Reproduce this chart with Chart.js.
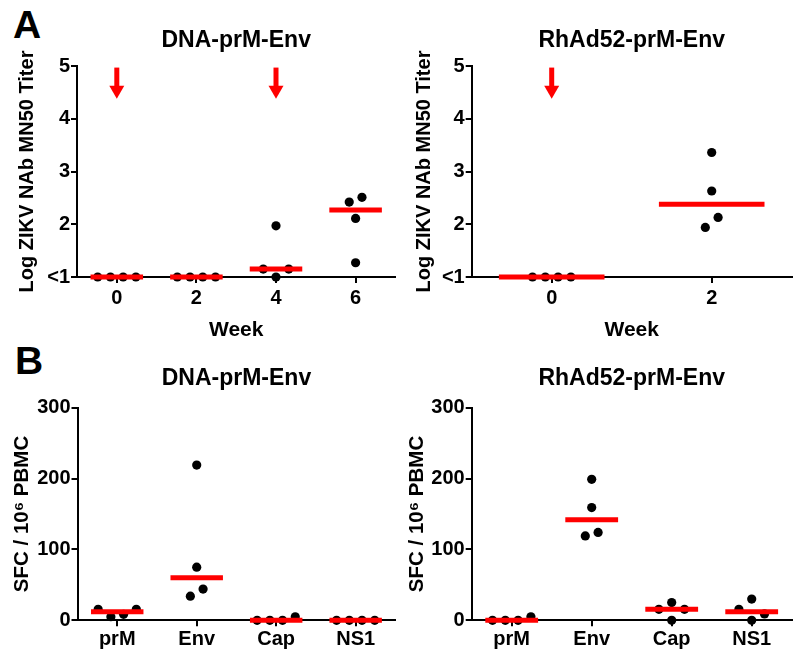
<!DOCTYPE html>
<html>
<head>
<meta charset="utf-8">
<title>ZIKV NAb titers and ELISPOT responses</title>
<script src="https://cdn.jsdelivr.net/npm/chart.js@4.4.1/dist/chart.umd.min.js"></script>
<style>
  body { margin: 0; background: #fff; }
  #figure { position: relative; width: 800px; height: 659px; overflow: hidden; }
  .panel { position: absolute; }
  .letter { position: absolute; font: bold 39px/39px "Liberation Sans", Arial, sans-serif; color: #000; }
</style>
</head>
<body>
<div id="figure">
  <div class="letter" style="left:13px;top:5px">A</div>
  <div class="letter" style="left:15px;top:341px">B</div>
  <canvas id="nabDna" class="panel" width="400" height="345" style="left:0;top:0"></canvas>
  <canvas id="nabRhad" class="panel" width="400" height="345" style="left:400px;top:0"></canvas>
  <canvas id="sfcDna" class="panel" width="400" height="314" style="left:0;top:345px"></canvas>
  <canvas id="sfcRhad" class="panel" width="400" height="314" style="left:400px;top:345px"></canvas>
</div>
<script>
// Panel A: log ZIKV NAb MN50 titers per animal, by week
const weeksDna = [0, 2, 4, 6];
const nabDna = [
    [1, 1, 1, 1],
    [1, 1, 1, 1],
    [1.0, 1.15, 1.15, 1.97],
    [1.27, 2.11, 2.42, 2.51]
];
const nabDnaMedian = [1, 1, 1.15, 2.27];
const boostDna = [0, 4];

const weeksRhad = [0, 2];
const nabRhad = [
    [1, 1, 1, 1],
    [1.94, 2.13, 2.63, 3.36]
];
const nabRhadMedian = [1, 2.38];
const boostRhad = [0];

const nabTicks = [1, 2, 3, 4, 5];
const nabTickLabels = ['<1', '2', '3', '4', '5'];
const arrowFrom = 4.97;   // top of the vaccination arrows
const arrowTo = 4.38;     // arrow tip

// Panel B: ELISPOT SFC per 10^6 PBMC, by antigen
const antigens = ['prM', 'Env', 'Cap', 'NS1'];
const antigenPos = [0, 1, 2, 3];
const sfcDna = [
    [5, 8.5, 15.5, 15.5],
    [34, 44, 75, 219],
    [0, 0, 0, 5],
    [0, 0, 0, 0]
];
const sfcDnaMedian = [12, 60, 0, 0];
const sfcRhad = [
    [0, 0, 0, 5],
    [119, 124, 159, 199],
    [0, 15.5, 15.5, 25],
    [0, 9, 15.5, 30]
];
const sfcRhadMedian = [0, 142, 15.5, 12];
const sfcTicks = [0, 100, 200, 300];

const RED = '#ff0000';

Chart.defaults.font.family = '"Liberation Sans", Arial, Helvetica, sans-serif';
Chart.defaults.font.weight = 'bold';
Chart.defaults.color = '#000';

// Spread overlapping points side by side (scatter-dot-plot style)
function swarm(values, slot, gap) {
    const order = values.map((v, i) => i).sort((a, b) => values[a] - values[b]);
    const slots = new Array(values.length);
    const placed = [];
    order.forEach(i => {
        for (let k = 0; ; k++) {
            const s = k === 0 ? 0 : (k % 2 ? (k + 1) / 2 : -k / 2);
            const hit = placed.some(j => slots[j] === s && Math.abs(values[j] - values[i]) < gap);
            if (!hit) {
                slots[i] = s;
                placed.push(i);
                break;
            }
        }
    });
    // re-centre each run of close values
    let start = 0;
    for (let n = 1; n <= order.length; n++) {
        if (n === order.length || values[order[n]] - values[order[n - 1]] >= gap) {
            const run = order.slice(start, n);
            const mean = run.reduce((a, i) => a + slots[i], 0) / run.length;
            run.forEach(i => { slots[i] -= mean; });
            start = n;
        }
    }
    return slots.map(s => s * slot);
}

// Red vaccination arrows
const arrowPlugin = {
    id: 'boostArrows',
    afterDatasetsDraw(chart, args, opts) {
        if (!opts.weeks) return;
        const { ctx, scales: { x, y } } = chart;
        ctx.save();
        ctx.fillStyle = RED;
        opts.weeks.forEach(w => {
            const px = x.getPixelForValue(w);
            const top = y.getPixelForValue(opts.from);
            const tip = y.getPixelForValue(opts.to);
            ctx.fillRect(px - 2.5, top, 5, tip - top - 11);
            ctx.beginPath();
            ctx.moveTo(px - 7.5, tip - 13);
            ctx.lineTo(px + 7.5, tip - 13);
            ctx.lineTo(px, tip);
            ctx.closePath();
            ctx.fill();
        });
        ctx.restore();
    }
};

function makePanel(p) {
    const slot = (p.xMax - p.xMin) * 0.04;
    const gap = (p.yMax - p.yMin) * 0.061;
    const datasets = [];

    // median bars
    p.groups.forEach((vals, i) => {
        datasets.push({
            data: [
                { x: p.xs[i] - p.halfWidth, y: p.medians[i] },
                { x: p.xs[i] + p.halfWidth, y: p.medians[i] }
            ],
            showLine: true,
            borderColor: RED,
            borderWidth: 5,
            borderCapStyle: 'butt',
            pointRadius: 0,
            order: 0,
            clip: false
        });
    });

    // individual animals
    p.groups.forEach((vals, i) => {
        const offs = swarm(vals, slot, gap);
        datasets.push({
            data: vals.map((v, k) => ({ x: p.xs[i] + offs[k], y: v })),
            pointRadius: 4.6,
            backgroundColor: '#000',
            borderWidth: 0,
            order: 1,
            clip: false
        });
    });

    const axisGrid = { drawOnChartArea: false, drawTicks: true, tickLength: 6, color: '#000', lineWidth: 2 };
    const axisBorder = { display: true, color: '#000', width: 2 };

    new Chart(document.getElementById(p.id), {
        type: 'scatter',
        data: { datasets },
        options: {
            responsive: false,
            animation: false,
            events: [],
            layout: { padding: { left: 0, right: p.padRight, top: 0, bottom: 0 } },
            scales: {
                x: {
                    type: 'linear',
                    min: p.xMin,
                    max: p.xMax,
                    afterBuildTicks: s => { s.ticks = p.xs.map(v => ({ value: v })); },
                    afterFit: s => { s.height = p.xHeight; },
                    ticks: {
                        font: { size: 20 },
                        padding: p.xTickPad,
                        autoSkip: false,
                        maxRotation: 0,
                        callback: (v, i) => p.xLabels[i]
                    },
                    grid: axisGrid,
                    border: axisBorder,
                    title: {
                        display: !!p.xTitle,
                        text: p.xTitle || '',
                        font: { size: 21 },
                        padding: { top: 0, bottom: 2 }
                    }
                },
                y: {
                    type: 'linear',
                    min: p.yMin,
                    max: p.yMax,
                    afterBuildTicks: s => { s.ticks = p.yTicks.map(v => ({ value: v })); },
                    afterFit: s => { s.width = p.yWidth; },
                    ticks: {
                        font: { size: 20 },
                        padding: 1,
                        autoSkip: false,
                        callback: (v, i) => p.yLabels[i]
                    },
                    grid: axisGrid,
                    border: axisBorder,
                    title: {
                        display: true,
                        text: p.yTitle,
                        font: { size: p.yTitleSize },
                        padding: { top: p.yTitlePad, bottom: 0 }
                    }
                }
            },
            plugins: {
                legend: { display: false },
                tooltip: { enabled: false },
                title: {
                    display: true,
                    text: p.title,
                    fullSize: false,
                    font: { size: 23 },
                    padding: { top: p.titleTop, bottom: p.titleBottom }
                },
                boostArrows: p.arrows || false
            }
        },
        plugins: [arrowPlugin]
    });
}

const nabTitle = 'Log ZIKV NAb MN50 Titer';
const sfcTitle = 'SFC / 10\u2076 PBMC';

makePanel({
    id: 'nabDna', title: 'DNA-prM-Env',
    xs: weeksDna, xLabels: weeksDna.map(String), xMin: -1, xMax: 7, xTitle: 'Week',
    groups: nabDna, medians: nabDnaMedian, halfWidth: 0.66,
    yMin: 1, yMax: 5, yTicks: nabTicks, yLabels: nabTickLabels,
    yTitle: nabTitle, yTitleSize: 20, yTitlePad: 15,
    arrows: { weeks: boostDna, from: arrowFrom, to: arrowTo },
    yWidth: 77, xHeight: 68, padRight: 3, xTickPad: 3, titleTop: 27, titleBottom: 11.4
});

makePanel({
    id: 'nabRhad', title: 'RhAd52-prM-Env',
    xs: weeksRhad, xLabels: weeksRhad.map(String), xMin: -1, xMax: 3, xTitle: 'Week',
    groups: nabRhad, medians: nabRhadMedian, halfWidth: 0.66,
    yMin: 1, yMax: 5, yTicks: nabTicks, yLabels: nabTickLabels,
    yTitle: nabTitle, yTitleSize: 20, yTitlePad: 12,
    arrows: { weeks: boostRhad, from: arrowFrom, to: arrowTo },
    yWidth: 71.7, xHeight: 68, padRight: 8.3, xTickPad: 3, titleTop: 27, titleBottom: 11.4
});

makePanel({
    id: 'sfcDna', title: 'DNA-prM-Env',
    xs: antigenPos, xLabels: antigens, xMin: -0.5, xMax: 3.5,
    groups: sfcDna, medians: sfcDnaMedian, halfWidth: 0.33,
    yMin: 0, yMax: 300, yTicks: sfcTicks, yLabels: sfcTicks.map(String),
    yTitle: sfcTitle, yTitleSize: 20.5, yTitlePad: 10,
    yWidth: 77.5, xHeight: 38.7, padRight: 3, xTickPad: 1, titleTop: 20, titleBottom: 15.1
});

makePanel({
    id: 'sfcRhad', title: 'RhAd52-prM-Env',
    xs: antigenPos, xLabels: antigens, xMin: -0.5, xMax: 3.5,
    groups: sfcRhad, medians: sfcRhadMedian, halfWidth: 0.33,
    yMin: 0, yMax: 300, yTicks: sfcTicks, yLabels: sfcTicks.map(String),
    yTitle: sfcTitle, yTitleSize: 20.5, yTitlePad: 5,
    yWidth: 71.7, xHeight: 38.7, padRight: 8.3, xTickPad: 1, titleTop: 20, titleBottom: 15.1
});
</script>
</body>
</html>
